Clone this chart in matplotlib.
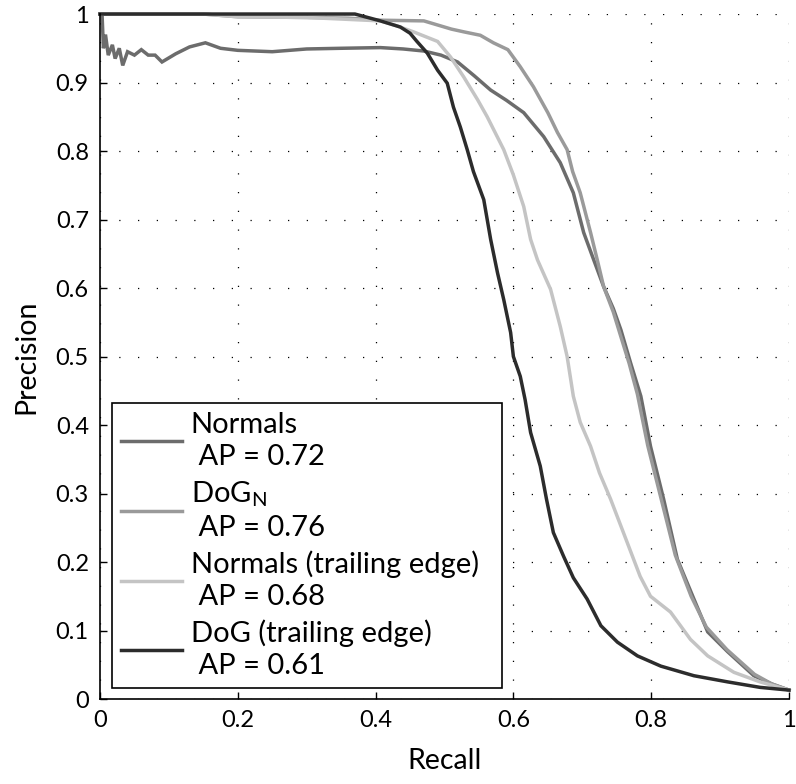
import matplotlib
matplotlib.use("Agg")
import matplotlib.pyplot as plt
import numpy as np

plt.rcParams['font.family'] = ['Lato', 'DejaVu Sans']
plt.rcParams['mathtext.fontset'] = 'custom'
plt.rcParams['mathtext.rm'] = 'Lato'

# --- datos (recall, precision) ---
normals_r = [0, 0.003, 0.005, 0.008, 0.012, 0.018, 0.022, 0.028, 0.033, 0.04, 0.05, 0.06,
             0.07, 0.08, 0.09, 0.11, 0.13, 0.153, 0.175, 0.2, 0.25, 0.3, 0.35, 0.407, 0.44,
             0.47, 0.495, 0.519, 0.543, 0.567, 0.59, 0.615, 0.644, 0.668, 0.687, 0.702, 0.717,
             0.731, 0.745, 0.756, 0.770, 0.785, 0.799, 0.818, 0.838, 0.862, 0.882, 0.911,
             0.949, 0.975, 1.0]
normals_p = [1.0, 1.0, 0.95, 0.97, 0.94, 0.955, 0.935, 0.95, 0.925, 0.945, 0.94, 0.948,
             0.94, 0.94, 0.930, 0.942, 0.952, 0.958, 0.95, 0.947, 0.945, 0.949, 0.95, 0.951,
             0.949, 0.946, 0.94, 0.93, 0.91, 0.889, 0.874, 0.856, 0.821, 0.783, 0.739, 0.681,
             0.64, 0.602, 0.57, 0.539, 0.491, 0.442, 0.369, 0.292, 0.204, 0.146, 0.098, 0.069,
             0.034, 0.022, 0.013]

dogn_r = [0, 0.15, 0.2, 0.3, 0.36, 0.407, 0.47, 0.49, 0.51, 0.528, 0.552, 0.571, 0.592,
          0.61, 0.629, 0.65, 0.664, 0.678, 0.686, 0.697, 0.712, 0.722, 0.731, 0.745, 0.756,
          0.768, 0.78, 0.795, 0.815, 0.835, 0.858, 0.88, 0.91, 0.95, 0.975, 1.0]
dogn_p = [1.0, 1.0, 0.996, 0.995, 0.994, 0.991, 0.99, 0.984, 0.978, 0.974, 0.969, 0.958,
          0.948, 0.923, 0.894, 0.856, 0.827, 0.802, 0.77, 0.739, 0.681, 0.64, 0.602, 0.565,
          0.529, 0.49, 0.445, 0.37, 0.29, 0.21, 0.15, 0.105, 0.072, 0.036, 0.022, 0.013]

normals_te_r = [0, 0.15, 0.2, 0.3, 0.407, 0.43, 0.455, 0.49, 0.509, 0.528, 0.548, 0.562,
                0.586, 0.6, 0.615, 0.625, 0.635, 0.654, 0.668, 0.678, 0.687, 0.697, 0.712,
                0.725, 0.741, 0.765, 0.784, 0.799, 0.828, 0.857, 0.882, 0.92, 0.958, 1.0]
normals_te_p = [1.0, 1.0, 0.996, 0.995, 0.99, 0.983, 0.974, 0.96, 0.937, 0.908, 0.875, 0.85,
                0.802, 0.765, 0.719, 0.671, 0.641, 0.598, 0.544, 0.5, 0.442, 0.404, 0.369,
                0.33, 0.292, 0.229, 0.179, 0.150, 0.127, 0.087, 0.063, 0.039, 0.025, 0.013]

dog_te_r = [0, 0.37, 0.407, 0.436, 0.45, 0.46, 0.475, 0.49, 0.504, 0.513, 0.523, 0.533,
            0.542, 0.557, 0.567, 0.577, 0.586, 0.596, 0.6, 0.61, 0.617, 0.625, 0.639, 0.648,
            0.658, 0.673, 0.687, 0.707, 0.727, 0.751, 0.78, 0.814, 0.862, 0.911, 0.958, 1.0]
dog_te_p = [1.0, 1.0, 0.99, 0.981, 0.972, 0.96, 0.943, 0.918, 0.899, 0.864, 0.835, 0.802,
            0.77, 0.729, 0.671, 0.622, 0.583, 0.535, 0.5, 0.471, 0.437, 0.389, 0.340, 0.292,
            0.243, 0.208, 0.177, 0.146, 0.107, 0.083, 0.063, 0.048, 0.034, 0.025, 0.017, 0.013]

etiquetas = ["Normals\n AP = 0.72",
             "DoG$_{\\mathregular{N}}$\n AP = 0.76",
             "Normals (trailing edge)\n AP = 0.68",
             "DoG (trailing edge)\n AP = 0.61"]
colores = ["#6c6c6c", "#9a9a9a", "#c4c4c4", "#2c2c2c"]

x_ticks = [0, 0.2, 0.4, 0.6, 0.8, 1.0]
x_ticklabels = ["0", "0.2", "0.4", "0.6", "0.8", "1"]
y_ticks = [0, 0.1, 0.2, 0.3, 0.4, 0.5, 0.6, 0.7, 0.8, 0.9, 1.0]
y_ticklabels = ["0", "0.1", "0.2", "0.3", "0.4", "0.5", "0.6", "0.7", "0.8", "0.9", "1"]

fig = plt.figure(figsize=(7.96, 7.84), dpi=100)
ax = fig.add_axes([0.1256, 0.1084, 0.8656, 0.8737])

series = [(normals_r, normals_p), (dogn_r, dogn_p),
          (normals_te_r, normals_te_p), (dog_te_r, dog_te_p)]
for (r, p), c, lab in zip(series, colores, etiquetas):
    ax.plot(r, p, color=c, linewidth=2.5, label=lab, clip_on=False,
            solid_joinstyle='miter')

ax.set_xlim(0, 1)
ax.set_ylim(0, 1)
ax.set_xticks(x_ticks)
ax.set_xticklabels(x_ticklabels)
ax.set_yticks(y_ticks)
ax.set_yticklabels(y_ticklabels)
ax.tick_params(direction='in', length=5, width=1, labelsize=17, pad=8)
ax.spines['top'].set_visible(False)
ax.spines['right'].set_visible(False)
for s in ['left', 'bottom']:
    ax.spines[s].set_linewidth(1.2)
ax.grid(True, color='black', linestyle=(0, (1, 14)), linewidth=0.9)
ax.set_axisbelow(True)

ax.set_xlabel("Recall", fontsize=20.5, labelpad=12)
ax.set_ylabel("Precision", fontsize=20.5, labelpad=12)

leg = ax.legend(loc='lower left', bbox_to_anchor=(0.0174, 0.016, 0.566, 0.4),
                mode='expand', borderaxespad=0, fontsize=21, handlelength=2.1,
                handletextpad=0.3, labelspacing=0.31, borderpad=0.3, fancybox=False,
                framealpha=1, edgecolor='black')
leg.get_frame().set_linewidth(1.2)
for t in leg.get_texts():
    t.set_linespacing(1.3)

fig.savefig("out.png", dpi=100)
